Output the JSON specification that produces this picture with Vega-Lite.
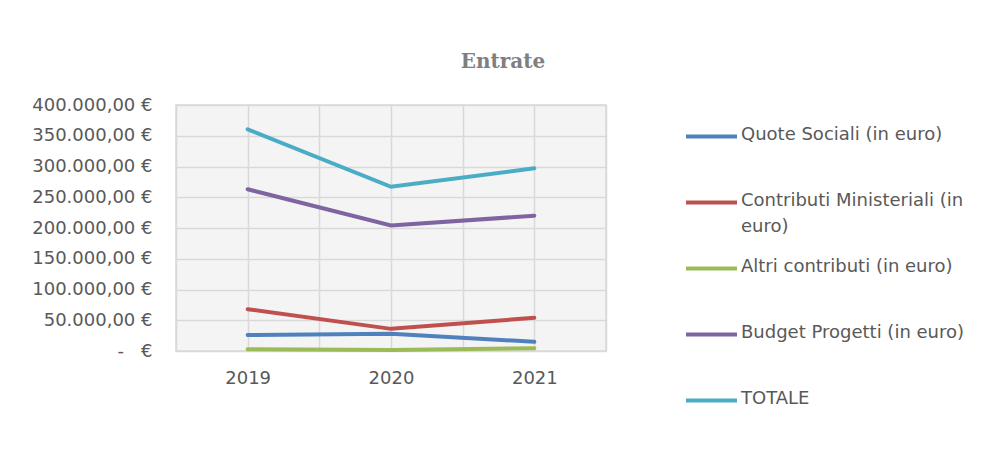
{
  "$schema": "https://vega.github.io/schema/vega-lite/v6.json",
  "width": 430,
  "height": 246,
  "autosize": "none",
  "padding": {"left": 176, "top": 105, "right": 376, "bottom": 121},
  "background": "white",
  "title": {
    "text": "Entrate",
    "font": "DejaVu Serif",
    "fontSize": 20,
    "fontWeight": "bold",
    "color": "#7f7f7f",
    "anchor": "middle",
    "frame": "group",
    "dx": 112,
    "offset": 24
  },
  "config": {
    "font": "DejaVu Sans",
    "view": {"fill": "#f4f4f4", "stroke": "#d9d9d9", "strokeWidth": 1.5}
  },
  "data": {
    "values": [
      {"anno": 2019, "voce": "Quote Sociali (in euro)", "valore": 26000},
      {"anno": 2020, "voce": "Quote Sociali (in euro)", "valore": 28000},
      {"anno": 2021, "voce": "Quote Sociali (in euro)", "valore": 15000},
      {"anno": 2019, "voce": "Contributi Ministeriali (in euro)", "valore": 68000},
      {"anno": 2020, "voce": "Contributi Ministeriali (in euro)", "valore": 36000},
      {"anno": 2021, "voce": "Contributi Ministeriali (in euro)", "valore": 54000},
      {"anno": 2019, "voce": "Altri contributi (in euro)", "valore": 2800},
      {"anno": 2020, "voce": "Altri contributi (in euro)", "valore": 1500},
      {"anno": 2021, "voce": "Altri contributi (in euro)", "valore": 4400},
      {"anno": 2019, "voce": "Budget Progetti (in euro)", "valore": 263000},
      {"anno": 2020, "voce": "Budget Progetti (in euro)", "valore": 204000},
      {"anno": 2021, "voce": "Budget Progetti (in euro)", "valore": 220000},
      {"anno": 2019, "voce": "TOTALE", "valore": 360500},
      {"anno": 2020, "voce": "TOTALE", "valore": 267000},
      {"anno": 2021, "voce": "TOTALE", "valore": 297000}
    ]
  },
  "mark": {"type": "line", "strokeWidth": 4, "strokeCap": "round"},
  "encoding": {
    "x": {
      "field": "anno",
      "type": "quantitative",
      "scale": {"domain": [2018.5, 2021.5], "nice": false, "zero": false},
      "axis": {
        "title": null,
        "values": [2018.5, 2019, 2019.5, 2020, 2020.5, 2021, 2021.5],
        "labelExpr": "datum.value % 1 == 0 ? format(datum.value, 'd') : ''",
        "domain": false,
        "ticks": false,
        "labelPadding": 18,
        "labelFontSize": 18,
        "labelColor": "#595959",
        "labelFont": "DejaVu Sans",
        "gridColor": "#d9d9d9",
        "gridWidth": 1.5
      }
    },
    "y": {
      "field": "valore",
      "type": "quantitative",
      "scale": {"domain": [0, 400000], "nice": false},
      "axis": {
        "title": null,
        "values": [0, 50000, 100000, 150000, 200000, 250000, 300000, 350000, 400000],
        "labelExpr": "datum.value == 0 ? '-\u00a0\u00a0\u00a0€' : format(datum.value / 1000, 'd') + '.000,00\u00a0€'",
        "domain": false,
        "ticks": false,
        "labelPadding": 24,
        "labelFontSize": 18,
        "labelColor": "#595959",
        "labelFont": "DejaVu Sans",
        "gridColor": "#d9d9d9",
        "gridWidth": 1.5
      }
    },
    "color": {
      "field": "voce",
      "type": "nominal",
      "scale": {
        "domain": ["Quote Sociali (in euro)", "Contributi Ministeriali (in euro)", "Altri contributi (in euro)", "Budget Progetti (in euro)", "TOTALE"],
        "range": ["#4F81BD", "#C0504D", "#9BBB59", "#8064A2", "#4BACC6"]
      },
      "legend": {
        "title": null,
        "orient": "none",
        "legendX": 508,
        "legendY": 4,
        "padding": 0,
        "symbolType": "M-1,0H1",
        "symbolSize": 2601,
        "symbolStrokeWidth": 4,
        "labelFontSize": 18,
        "labelColor": "#595959",
        "labelFont": "DejaVu Sans",
        "labelOffset": 2,
        "labelLimit": 400,
        "rowPadding": 5,
        "gridAlign": "all",
        "labelBaseline": "top",
        "labelExpr": "datum.label == 'Contributi Ministeriali (in euro)' ? ['Contributi Ministeriali (in', 'euro)'] : datum.label",
        "encode": {"labels": {"update": {"dy": {"value": -11}, "lineHeight": {"value": 26}}}}
      }
    }
  }
}
